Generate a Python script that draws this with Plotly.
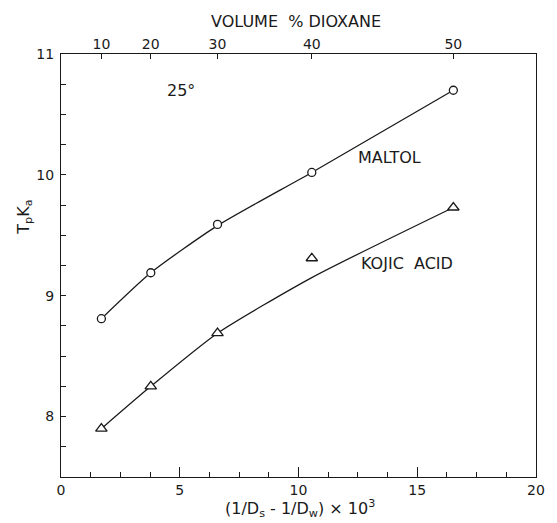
import plotly.graph_objects as go

# ---- data ----
x_values = [1.70, 3.78, 6.59, 10.56, 16.52]          # (1/Ds - 1/Dw) x 10^3
dioxane_labels = ["10", "20", "30", "40", "50"]       # volume % dioxane (top axis)
maltol_pka = [8.81, 9.19, 9.59, 10.02, 10.70]
kojic_pka = [7.90, 8.25, 8.69, 9.31, 9.73]
maltol_curve = [8.81, 9.19, 9.58, 10.02, 10.70]
kojic_curve = [7.90, 8.25, 8.69, 9.15, 9.73]

INK = "#1a1a1a"
FONT = "DejaVu Sans, Liberation Sans, sans-serif"

fig = go.Figure()

# fitted curves
for ys in (maltol_curve, kojic_curve):
    fig.add_trace(go.Scatter(x=x_values, y=ys, mode="lines",
                             line=dict(color=INK, width=1.3, shape="spline", smoothing=0.6),
                             showlegend=False, hoverinfo="skip"))

# experimental points
fig.add_trace(go.Scatter(x=x_values, y=maltol_pka, mode="markers", name="Maltol",
                         marker=dict(symbol="circle", size=8, color="white",
                                     line=dict(color=INK, width=1.3)),
                         showlegend=False))
fig.add_trace(go.Scatter(x=x_values, y=kojic_pka, mode="markers", name="Kojic acid",
                         marker=dict(symbol="triangle-up", size=10, color="white",
                                     line=dict(color=INK, width=1.3)),
                         showlegend=False))

# invisible trace to carry the top axis
fig.add_trace(go.Scatter(x=x_values, y=maltol_pka, xaxis="x2", mode="markers",
                         marker=dict(opacity=0), showlegend=False, hoverinfo="skip"))

fig.update_layout(
    width=557, height=523,
    margin=dict(l=61, r=12, t=54, b=46),
    paper_bgcolor="white", plot_bgcolor="white",
    font=dict(family=FONT, color=INK, size=14),
    xaxis=dict(range=[0, 20], tickmode="linear", tick0=0, dtick=5,
               ticks="inside", ticklen=10, tickwidth=1, tickcolor=INK,
               minor=dict(dtick=1.25, ticks="inside", ticklen=5, tickcolor=INK),
               showline=True, linecolor=INK, linewidth=1.3, mirror=True,
               showgrid=False, zeroline=False, ticklabelstandoff=0,
               tickfont=dict(size=14)),
    xaxis2=dict(range=[0, 20], overlaying="x", side="top", anchor="y",
                tickmode="array", tickvals=x_values, ticktext=dioxane_labels,
                ticks="inside", ticklen=5, tickwidth=1, tickcolor=INK,
                showline=True, linecolor=INK, linewidth=1.3,
                showgrid=False, zeroline=False, ticklabelstandoff=-2,
                tickfont=dict(size=14)),
    yaxis=dict(range=[7.5, 11], tickmode="linear", tick0=8, dtick=1,
               ticks="inside", ticklen=5, tickwidth=1, tickcolor=INK,
               minor=dict(dtick=0.25, ticks="inside", ticklen=5, tickcolor=INK),
               showline=True, linecolor=INK, linewidth=1.3, mirror=True,
               showgrid=False, zeroline=False, ticklabelstandoff=3,
               tickfont=dict(size=14)),
)

ann = dict(showarrow=False, xanchor="center", yanchor="middle",
           font=dict(family=FONT, color=INK, size=16))
fig.add_annotation(text="25°", x=5.05, y=10.70, xref="x", yref="y", **ann)
fig.add_annotation(text="MALTOL", x=13.85, y=10.14, xref="x", yref="y", **ann)
fig.add_annotation(text="KOJIC  ACID", x=14.55, y=9.27, xref="x", yref="y", **ann)
fig.add_annotation(text="VOLUME  % DIOXANE", x=300, y=523 - 21, xref="paper", yref="paper",
                   **ann)
fig.add_annotation(text="(1/D<sub>s</sub> - 1/D<sub>w</sub>) × 10<sup>3</sup>",
                   x=305, y=523 - 508, xref="paper", yref="paper", **ann)
fig.add_annotation(text="T<sub>p</sub>K<sub>a</sub>", x=23, y=523 - 217,
                   xref="paper", yref="paper", textangle=-90, **ann)

# convert the pixel-placed annotations to paper coordinates
pw, ph = 557 - 61 - 12, 523 - 54 - 46
for a in fig.layout.annotations:
    if a.xref == "paper":
        a.x = (a.x - 61) / pw
        a.y = (a.y - 46) / ph

fig.write_html("out.html")
